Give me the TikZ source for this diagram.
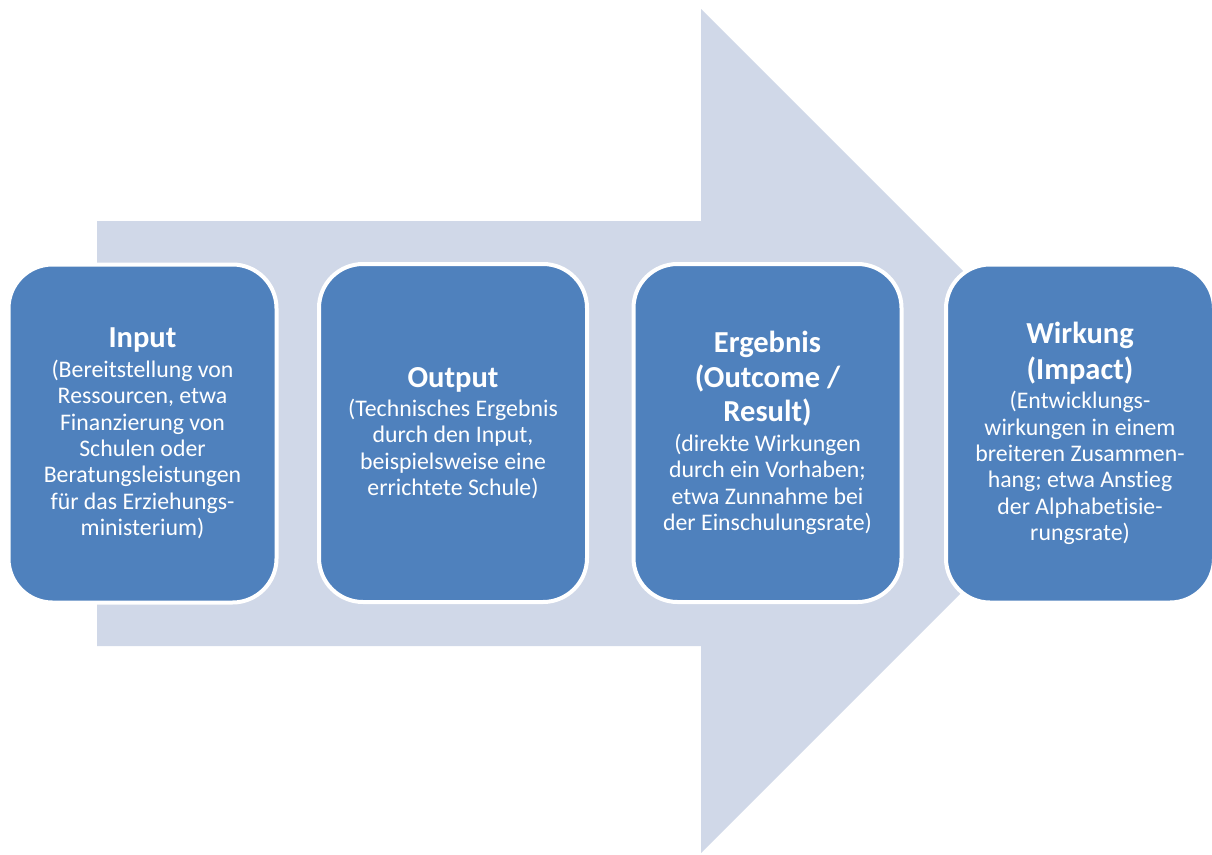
\documentclass[tikz,border=0pt]{standalone}
\usepackage{fontspec}
\setmainfont{Carlito}[Ligatures=NoCommon]
\definecolor{arrowfill}{HTML}{D0D8E8}
\definecolor{boxblue}{HTML}{4F81BD}
\tikzset{
  stagebox/.style={draw=white, line width=4pt, fill=boxblue, rounded corners=44pt,
    minimum width=268pt, minimum height=338pt, text=white, align=center, inner sep=0pt,
    font=\fontsize{23.8}{26.4}\selectfont},
}
\newcommand{\stitle}[1]{{\fontsize{30.5}{33}\selectfont\bfseries #1}}
\begin{document}
\begin{tikzpicture}[x=1pt,y=-1pt]
\fill[white] (0,0) rectangle (1212,854);
\useasboundingbox (0,0) rectangle (1212,854);
% big arrow
\fill[arrowfill] (97,221) -- (701,221) -- (701,9) -- (1123,431) -- (701,853) -- (701,646) -- (97,646) -- cycle;
% boxes
\node[stagebox] (input) at (142.5,433.5) {\stitle{Input}\\[3pt](Bereitstellung von\\Ressourcen, etwa\\Finanzierung von\\Schulen oder\\Beratungsleistungen\\für das Erziehungs-\\ministerium)};
\node[stagebox] (output) at (453,433) {\stitle{Output}\\[3pt](Technisches Ergebnis\\durch den Input,\\beispielsweise eine\\errichtete Schule)};
\node[stagebox] (ergebnis) at (767.5,433) {\stitle{Ergebnis}\\[6pt]\stitle{(Outcome /}\\[6pt]\stitle{Result)}\\[3pt](direkte Wirkungen\\durch ein Vorhaben;\\etwa Zunnahme bei\\der Einschulungsrate)};
\node[stagebox] (wirkung) at (1080,433.5) {\stitle{Wirkung}\\[7pt]\stitle{(Impact)}\\[3pt](Entwicklungs-\\wirkungen in einem\\breiteren Zusammen-\\hang; etwa Anstieg\\der Alphabetisie-\\rungsrate)};
\end{tikzpicture}
\end{document}
